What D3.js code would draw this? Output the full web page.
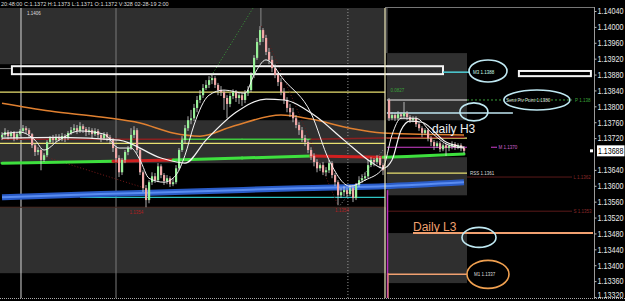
<!DOCTYPE html>
<html><head><meta charset="utf-8">
<script src="https://cdn.jsdelivr.net/npm/d3@7"></script>
<style>html,body{margin:0;padding:0;background:#000;overflow:hidden}svg{display:block}</style>
</head><body>
<svg id="c" width="625" height="301"></svg>
<script>
// ---------------- DATA ----------------
const titleText = "20:48:00 C:1.1372 H:1.1373 L:1.1371 O:1.1372 V:328 02-28-19 2:00";
const priceTicks = [1.14040,1.14000,1.13960,1.13920,1.13880,1.13840,1.13800,1.13760,1.13720,1.13640,1.13600,1.13560,1.13520,1.13480,1.13440,1.13400,1.13360,1.13320];
const lastPrice = 1.13688;

const leftOpen0 = 1.13722;
const leftClose = [1.13728,1.13735,1.13725,1.13733,1.13720,1.13730,1.13738,1.13745,1.13740,1.13730,
1.13702,1.13685,1.13690,1.13665,1.13677,1.13710,1.13720,1.13715,1.13722,1.13717,
1.13725,1.13720,1.13733,1.13740,1.13745,1.13738,1.13750,1.13743,1.13735,1.13740,
1.13730,1.13738,1.13728,1.13720,1.13730,1.13722,1.13715,1.13695,1.13670,1.13634,
1.13665,1.13685,1.13695,1.13728,1.13740,1.13690,1.13634,1.13594,1.13564,1.13609,
1.13624,1.13614,1.13649,1.13627,1.13612,1.13619,1.13604,1.13609,1.13644,1.13690,
1.13715,1.13745,1.13765,1.13770,1.13796,1.13816,1.13828,1.13846,1.13854,1.13866,
1.13871,1.13854,1.13841,1.13836,1.13821,1.13806,1.13826,1.13836,1.13821,1.13828,
1.13816,1.13833,1.13841,1.13879,1.13922,1.13962,1.13992,1.13972,1.13937,1.13917,
1.13896,1.13879,1.13861,1.13836,1.13816,1.13796,1.13785,1.13770,1.13753,1.13740,
1.13720,1.13710,1.13690,1.13675,1.13660,1.13644,1.13652,1.13634,1.13639,1.13657,
1.13627,1.13609,1.13576,1.13584,1.13589,1.13579,1.13594,1.13569,1.13602,1.13614,
1.13619,1.13624,1.13652,1.13665,1.13660,1.13670,1.13652,1.13639];
const leftHigh = [1.13735,1.13745,1.13740,1.13738,1.13738,1.13735,1.13743,1.13753,1.13750,1.13745,
1.13733,1.13707,1.13697,1.13695,1.13682,1.13715,1.13725,1.13728,1.13730,1.13730,
1.13733,1.13730,1.13738,1.13748,1.13755,1.13753,1.13760,1.13755,1.13748,1.13748,
1.13745,1.13745,1.13743,1.13733,1.13735,1.13735,1.13728,1.13720,1.13700,1.13677,
1.13670,1.13690,1.13700,1.13745,1.13750,1.13745,1.13695,1.13639,1.13602,1.13614,
1.13634,1.13632,1.13657,1.13654,1.13632,1.13627,1.13624,1.13619,1.13652,1.13695,
1.13725,1.13753,1.13775,1.13791,1.13806,1.13826,1.13841,1.13856,1.13866,1.13876,
1.13881,1.13876,1.13859,1.13851,1.13841,1.13828,1.13833,1.13843,1.13841,1.13836,
1.13833,1.13841,1.13851,1.13886,1.13929,1.13972,1.14002,1.13997,1.13980,1.13947,
1.13927,1.13906,1.13886,1.13871,1.13846,1.13823,1.13806,1.13796,1.13778,1.13760,
1.13748,1.13728,1.13717,1.13697,1.13682,1.13667,1.13657,1.13660,1.13647,1.13665,
1.13662,1.13632,1.13614,1.13594,1.13599,1.13594,1.13602,1.13599,1.13607,1.13624,
1.13629,1.13634,1.13665,1.13672,1.13670,1.13677,1.13675,1.13657];
const leftLow = [1.13715,1.13722,1.13717,1.13720,1.13712,1.13715,1.13725,1.13733,1.13730,1.13722,
1.13695,1.13675,1.13677,1.13639,1.13660,1.13672,1.13705,1.13707,1.13710,1.13712,
1.13712,1.13710,1.13715,1.13728,1.13735,1.13730,1.13733,1.13733,1.13725,1.13728,
1.13720,1.13725,1.13720,1.13710,1.13715,1.13712,1.13705,1.13685,1.13660,1.13622,
1.13627,1.13657,1.13677,1.13690,1.13720,1.13682,1.13627,1.13584,1.13546,1.13556,
1.13602,1.13607,1.13609,1.13619,1.13602,1.13604,1.13597,1.13599,1.13604,1.13639,
1.13685,1.13707,1.13738,1.13755,1.13763,1.13785,1.13808,1.13821,1.13841,1.13846,
1.13856,1.13846,1.13828,1.13826,1.13791,1.13770,1.13798,1.13818,1.13811,1.13806,
1.13801,1.13808,1.13826,1.13836,1.13871,1.13917,1.13954,1.13962,1.13929,1.13906,
1.13886,1.13871,1.13851,1.13828,1.13806,1.13785,1.13773,1.13760,1.13745,1.13728,
1.13710,1.13700,1.13682,1.13665,1.13649,1.13634,1.13637,1.13627,1.13624,1.13632,
1.13619,1.13599,1.13551,1.13569,1.13574,1.13571,1.13574,1.13559,1.13564,1.13597,
1.13607,1.13612,1.13619,1.13647,1.13649,1.13654,1.13644,1.13627];

const rightStart = 129;
const rightOpen0 = 1.13816;
const rightClose = [1.13770,1.13778,1.13770,1.13780,1.13775,1.13783,1.13773,1.13765,1.13770,1.13755,1.13745,1.13733,1.13740,1.13720,1.13710,1.13700,1.13707,1.13692,1.13702,1.13695,1.13700,1.13705,1.13697,1.13702,1.13695,1.13688];
const rightHigh = [1.13821,1.13785,1.13783,1.13788,1.13785,1.13811,1.13788,1.13778,1.13775,1.13775,1.13760,1.13750,1.13745,1.13745,1.13725,1.13715,1.13712,1.13712,1.13707,1.13707,1.13705,1.13712,1.13710,1.13707,1.13707,1.13700];
const rightLow = [1.13763,1.13765,1.13763,1.13765,1.13768,1.13770,1.13765,1.13758,1.13760,1.13748,1.13738,1.13722,1.13728,1.13712,1.13700,1.13690,1.13695,1.13685,1.13687,1.13675,1.13687,1.13692,1.13690,1.13692,1.13687,1.13682];

// moving averages (bar index, price)
const maOrangeIdx = [0,16,33,46,57,66,77,93,103,116,127,139,154];
const maOrangeVal = [1.13808,1.13788,1.13773,1.13758,1.13733,1.13725,1.13750,1.13778,1.13768,1.13745,1.13733,1.13730,1.13728];
const maSlowIdx = [0,19,39,53,61,68,78,88,94,104,114,123,127,130,133,136,140,148,154];
const maSlowVal = [1.13720,1.13722,1.13715,1.13670,1.13657,1.13715,1.13785,1.13818,1.13816,1.13778,1.13715,1.13660,1.13644,1.13665,1.13740,1.13763,1.13760,1.13710,1.13697];
const maFastIdx = [0,6,11,14,19,26,34,39,43,46,49,54,58,61,64,69,74,81,84,88,94,103,109,116,121,127,130,133,138,143,149,154];
const maFastVal = [1.13730,1.13735,1.13715,1.13690,1.13715,1.13738,1.13730,1.13695,1.13695,1.13665,1.13619,1.13609,1.13627,1.13677,1.13753,1.13828,1.13841,1.13833,1.13879,1.13917,1.13866,1.13783,1.13665,1.13599,1.13614,1.13644,1.13728,1.13770,1.13770,1.13735,1.13702,1.13695];
const maThinIdx = [0,33,60,80,103,127,154];
const maThinVal = [1.13717,1.13717,1.13717,1.13717,1.13717,1.13720,1.13722];
const maThinUp = [false,false,true,true,false,false];
const maThickIdx = [0,37,57,80,103,127,135,154];
const maThickVal = [1.13657,1.13662,1.13665,1.13670,1.13675,1.13672,1.13674,1.13680];
const maThickUp = [true,false,true,true,false,true,true];
const maBlueIdx = [0,33,66,99,127,154];
const maBlueVal = [1.13571,1.13579,1.13586,1.13594,1.13599,1.13609];

// zones (time index range, price range)
const zoneStart = [-1,-1,-1,128.3,128.3,128.3];
const zoneEnd   = [128,128,128,155,155,155];
const zoneTop   = [1.14060,1.13765,1.13546,1.13934,1.13672,1.13481];
const zoneBot   = [1.13906,1.13657,1.13380,1.13765,1.13576,1.13355];

// ---------------- CHART ----------------
const svg = d3.select('#c');
const W = 625, H = 301;
const y = d3.scaleLinear().domain([1.13320, 1.14040]).range([297, 11]);
const x = d3.scaleLinear().domain([0, 154]).range([2, 464]);
const FONT = "'Liberation Sans', Arial, sans-serif";

svg.append('rect').attr('width', W).attr('height', H).attr('fill', '#000');

const plot = svg.append('g');
svg.append('clipPath').attr('id','pc').append('rect').attr('x',0).attr('y',8).attr('width',594).attr('height',290);
plot.attr('clip-path','url(#pc)');

zoneStart.forEach((s,i)=>{
  plot.append('rect').attr('x', x(s)).attr('width', x(zoneEnd[i]) - x(s))
    .attr('y', y(zoneTop[i])).attr('height', y(zoneBot[i]) - y(zoneTop[i]))
    .attr('fill', '#2f2f2f');
});

function hline(p, i0, i1, color, w, dash){
  const l = plot.append('line').attr('x1', x(i0)).attr('x2', x(i1))
    .attr('y1', y(p)).attr('y2', y(p)).attr('stroke', color).attr('stroke-width', w||1);
  if (dash) l.attr('stroke-dasharray', dash);
  return l;
}
function vline(i, p0, p1, color, w, dash){
  const l = plot.append('line').attr('x1', x(i)).attr('x2', x(i))
    .attr('y1', y(p0)).attr('y2', y(p1)).attr('stroke', color).attr('stroke-width', w||1);
  if (dash) l.attr('stroke-dasharray', dash);
  return l;
}
function seg(i0,p0,i1,p1,color,w,dash){
  const l = plot.append('line').attr('x1', x(i0)).attr('x2', x(i1))
    .attr('y1', y(p0)).attr('y2', y(p1)).attr('stroke', color).attr('stroke-width', w||1);
  if (dash) l.attr('stroke-dasharray', dash);
  return l;
}

vline(6.33, 1.14060, 1.13310, '#d8d8d8', 1);
vline(38, 1.14060, 1.13310, '#7a7a7a', 1);
vline(115.3, 1.14060, 1.13310, '#9a9a9a', 1, '1,2');
vline(128.3, 1.14060, 1.13934, '#777', 1);

hline(1.13836, -1, 127.7, '#e8e070', 1.2);
hline(1.13707, -1, 127.7, '#e8e070', 1.2);
hline(1.13571, 26, 127.7, '#2ec4c4', 1.2);
hline(1.13546, -1, 127.7, '#4a2a22', 1);
hline(1.13895, -1, 3.3, '#888', 1);

seg(69.3, 1.13871, 84.7, 1.14060, '#3a9a3a', 1, '1,2');
seg(86.5, 1.14002, 112, 1.13551, '#6a1a1a', 1, '1,2');
seg(12.7, 1.13677, 47.7, 1.13594, '#7a1a1a', 1, '1,2');
seg(112.7, 1.13551, 127, 1.13690, '#8a8a8a', 1, '1,2');

hline(1.13816, 128.3, 155, '#f0f0f0', 1.2);
hline(1.13816, 155, 190, '#3aa03a', 1, '2,2');
hline(1.13783, 128.3, 170.3, '#bfe6f0', 1.5);
hline(1.13720, 128.3, 155, '#e8e070', 1.2);
hline(1.13697, 128.3, 155, '#d040d0', 1.2);
hline(1.13697, 163, 165, '#d040d0', 1);
hline(1.13632, 128.3, 155, '#e8e070', 1.2);
hline(1.13622, 155, 190, '#5a1a1a', 1);
hline(1.13536, 128.3, 190, '#5a1a1a', 1);
hline(1.13481, 137, 197, '#f0a070', 2);
hline(1.13377, 128.3, 155, '#f0a070', 1.5);
plot.append('rect').attr('x', x(3.3)).attr('y', y(1.13901)).attr('width', x(147)-x(3.3))
  .attr('height', y(1.13881)-y(1.13901)).attr('fill','none').attr('stroke','#f4f4f4').attr('stroke-width',2);
hline(1.13886, 147, 156, '#4fd0d8', 1.5);
plot.append('rect').attr('x', x(172.3)).attr('y', y(1.13889)).attr('width', x(196.3)-x(172.3))
  .attr('height', y(1.13876)-y(1.13889)).attr('fill','none').attr('stroke','#f4f4f4').attr('stroke-width',2);

vline(86.3, 1.14060, 1.14002, '#8a8a8a', 1);

const line = d3.line().curve(d3.curveMonotoneX);
function ma(idx, val, color, w){
  plot.append('path').attr('d', line(idx.map((d,i)=>[x(d), y(val[i])])))
    .attr('fill','none').attr('stroke', color).attr('stroke-width', w);
}
ma(maBlueIdx, maBlueVal, '#2a5cc8', 6);
ma(maBlueIdx, maBlueVal, '#5a8cf0', 2);
function coloredMA(idx, val, up, w, upC, dnC){
  for (let i=0;i<idx.length-1;i++){
    plot.append('line').attr('x1', x(idx[i])).attr('x2', x(idx[i+1]))
      .attr('y1', y(val[i])).attr('y2', y(val[i+1]))
      .attr('stroke', up[i]?upC:dnC).attr('stroke-width', w).attr('stroke-linecap','round');
  }
}
coloredMA(maThickIdx, maThickVal, maThickUp, 3, '#3ee03e', '#d02020');
coloredMA(maThinIdx, maThinVal, maThinUp, 1.5, '#3ec83e', '#8a2020');
ma(maOrangeIdx, maOrangeVal, '#e08030', 1.5);

function candles(open0, close, high, low, start){
  const opens = [open0].concat(close.slice(0, -1));
  close.forEach((c,i)=>{
    const o = opens[i], xi = x(start+i);
    const up = c >= o;
    plot.append('line').attr('x1', xi).attr('x2', xi).attr('y1', y(high[i])).attr('y2', y(low[i]))
      .attr('stroke', '#d8d8d8').attr('stroke-width', 0.8);
    const top = y(Math.max(o,c)), bot = y(Math.min(o,c));
    plot.append('rect').attr('x', xi-1).attr('width', 2.2).attr('y', top).attr('height', Math.max(1, bot-top))
      .attr('fill', up ? '#98f098' : '#f0a8a8');
  });
}
candles(leftOpen0, leftClose, leftHigh, leftLow, 0);
candles(rightOpen0, rightClose, rightHigh, rightLow, rightStart);

ma(maSlowIdx, maSlowVal, '#f4f4f4', 1.2);
ma(maFastIdx, maFastVal, '#f4f4f4', 1);

vline(127.67, 1.14060, 1.13310, '#ece6b8', 1.2);
vline(128.5, 1.13589, 1.13310, '#c030c0', 1.5);
vline(128.7, 1.13380, 1.13310, '#f0a070', 1);

function oval(i, p, rx, ry, color){
  plot.append('ellipse').attr('cx', x(i)).attr('cy', y(p)).attr('rx', rx).attr('ry', ry)
    .attr('fill','none').attr('stroke', color).attr('stroke-width', 1.6);
}
oval(162, 1.13889, 19, 11, '#bfe8f2');
oval(178.3, 1.13816, 33, 10, '#bfe8f2');
oval(157.3, 1.13786, 14, 9, '#bfe8f2');
oval(159, 1.13470, 17, 10, '#bfe8f2');
oval(162, 1.13377, 21, 14, '#f0a050');

function txt(i, p, s, color, size, anchor){
  return svg.append('text').attr('x', x(i)).attr('y', y(p)).text(s).attr('fill', color)
    .attr('font-size', size).attr('font-family', FONT).attr('text-anchor', anchor||'start');
}
txt(143.3, 1.13733, 'daily H3', '#f0f0f0', 12);
txt(137, 1.13487, 'Daily L3', '#f0a070', 12);
txt(157, 1.13882, 'M3 1.1388', '#cfe', 4.5);
txt(168, 1.13810, 'Semi Piv Point 1.1380', '#ddd', 4.5);
txt(191, 1.13812, 'P 1.138', '#3aa03a', 4.5);
txt(129.5, 1.13836, '0.0827', '#3aa03a', 4.5);
txt(165.5, 1.13692, 'M 1.1370', '#d060d0', 4.5);
txt(156, 1.13628, 'RSS 1.1361', '#ddd', 4.5);
txt(190.5, 1.13618, 'L 1.1362', '#8a2a2a', 4.5);
txt(190.5, 1.13532, 'S 1.1353', '#8a2a2a', 4.5);
txt(157.3, 1.13372, 'M1 1.1337', '#ddd', 4.5);
txt(42.5, 1.13530, '1.1354', '#b02020', 4.5);
txt(111, 1.13534, '1.1354', '#b02020', 4.5);
txt(8.3, 1.14030, '1.1406', '#ddd', 4.5);

// axis
svg.append('line').attr('x1',594.5).attr('x2',594.5).attr('y1',7).attr('y2',298).attr('stroke','#9a9a9a');
svg.append('line').attr('x1',385).attr('x2',594).attr('y1',7.5).attr('y2',7.5).attr('stroke','#777');
svg.append('line').attr('x1',0).attr('x2',625).attr('y1',298.5).attr('y2',298.5).attr('stroke','#aaa').attr('stroke-dasharray','1,1');
const ax = svg.append('g').attr('transform','translate(594.5,0)')
  .call(d3.axisRight(y).tickValues(priceTicks).tickFormat(d3.format('.5f')).tickSize(2).tickPadding(1));
ax.select('.domain').remove();
ax.selectAll('line').attr('stroke','#bbb');
ax.selectAll('text').attr('fill','#e8e8e8').attr('font-size', 9).attr('font-family', FONT)
  .attr('x', 0).attr('transform', d => d === priceTicks[priceTicks.length-1]
      ? 'translate(3,-2.5) scale(0.8,1)' : 'translate(3,0) scale(0.8,1)');

const ly = y(lastPrice);
svg.append('rect').attr('x',597).attr('y',ly-5.5).attr('width',27.5).attr('height',11).attr('fill','#fff');
svg.append('text').attr('x',0).attr('y',0).text(d3.format('.5f')(lastPrice))
  .attr('fill','#000').attr('font-size',9).attr('font-family',FONT)
  .attr('transform', `translate(598,${ly+3.2}) scale(0.78,1)`);
svg.append('rect').attr('x',590).attr('y',ly-1.5).attr('width',3).attr('height',3).attr('fill','#fff');

svg.append('rect').attr('x',0).attr('y',0).attr('width',625).attr('height',7).attr('fill','#000');
svg.append('text').attr('x',1).attr('y',5.5).text(titleText).attr('fill','#ddd')
  .attr('font-size',5.5).attr('font-family',FONT);
</script>
</body></html>
